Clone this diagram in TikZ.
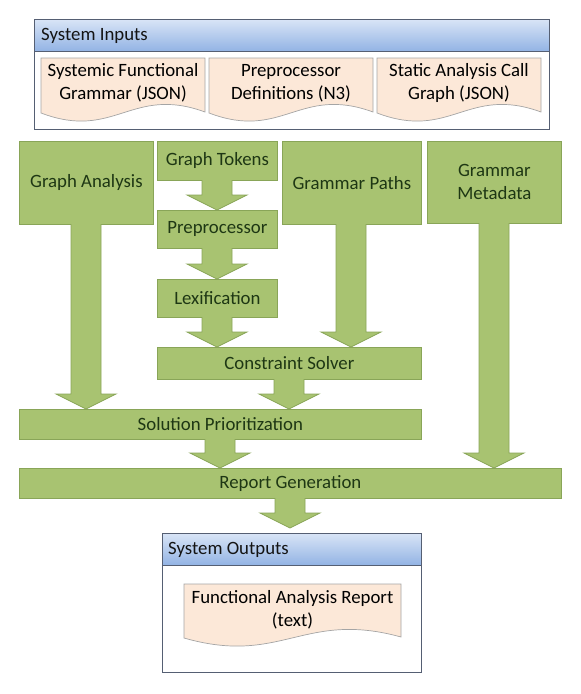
\documentclass[tikz,border=0pt]{standalone}
\usepackage{fontspec}
\setmainfont{Carlito}
\usetikzlibrary{calc}
\definecolor{gfill}{RGB}{168,195,113}
\definecolor{gline}{RGB}{137,165,88}
\definecolor{gtext}{RGB}{30,55,20}
\definecolor{dfill}{RGB}{252,232,216}
\definecolor{dline}{RGB}{165,165,165}
\definecolor{frameline}{RGB}{85,95,115}
\definecolor{htop}{RGB}{216,228,246}
\definecolor{hbot}{RGB}{146,179,228}
\definecolor{htext}{RGB}{20,20,20}
\newcommand\gboxat[6]{%
  \node[gbox, minimum width={(#4-#2)*1pt}, minimum height={(#5-#3)*1pt}] (#1) at (#2,#3) {#6};}
\newcommand\blockarr[4]{%
  \draw[garrow] let \p1=(#1.south), \p2=(#2.north) in
    ({#3pt-15pt},{\y1+0.7pt}) -- ({#3pt-15pt},{\y2+#4pt+15pt}) -- ({#3pt-30pt},{\y2+#4pt+15pt})
    -- ({#3pt},{\y2+#4pt}) -- ({#3pt+30pt},{\y2+#4pt+15pt}) -- ({#3pt+15pt},{\y2+#4pt+15pt})
    -- ({#3pt+15pt},{\y1+0.7pt});}
\newcommand\docshape[4]{%
  \draw[docstyle] (#1,#2) -- (#3,#2) -- (#3,#4-1)
    .. controls ({#1+0.55*(#3-#1)},{#4-28}) and ({#1+0.45*(#3-#1)},{#4+28}) .. (#1,#4) -- cycle;}
\begin{document}
\begin{tikzpicture}[x=1pt,y=-1pt,
  font=\fontsize{18.8}{23}\selectfont,
  gbox/.style={draw=gline, fill=gfill, text=gtext, line width=0.8pt, inner sep=0pt, anchor=north west, align=center},
  garrow/.style={draw=gline, fill=gfill, line width=0.8pt, line join=miter},
  docstyle/.style={draw=dline, fill=dfill, line width=0.7pt},
  doctext/.style={text=black, align=center, inner sep=0pt},
  frame/.style={draw=frameline, fill=white, line width=0.9pt, inner sep=0pt, anchor=north west},
  header/.style={draw=frameline, top color=htop, bottom color=hbot, line width=0.9pt, inner sep=0pt, anchor=north west},
  htextstyle/.style={text=htext, anchor=west, inner sep=0pt}]
\useasboundingbox (0,0) rectangle (581,694);
\fill[white] (0,0) rectangle (581,694);

% inputs frame
\node[frame, minimum width=515pt, minimum height=110pt] (inframe) at (34,19) {};
\node[header, minimum width=515pt, minimum height=32pt] (inhead) at (34,19) {};
\node[htextstyle] (intitle) at (41,36) {System Inputs};
\docshape{41}{58}{205}{113}
\docshape{209}{58}{373}{113}
\docshape{377}{58}{541}{113}
\node[doctext] (doc1) at (123,83) {Systemic Functional\\Grammar (JSON)};
\node[doctext] (doc2) at (291,83) {Preprocessor\\Definitions (N3)};
\node[doctext] (doc3) at (459,83) {Static Analysis Call\\Graph (JSON)};

% green boxes
\gboxat{ga}{19}{141}{153}{224}{Graph Analysis}
\gboxat{gt}{157}{141}{277}{180}{Graph Tokens}
\gboxat{pre}{157}{210}{277}{248}{Preprocessor}
\gboxat{lex}{157}{279}{277}{317}{Lexification}
\gboxat{cs}{157}{347}{421}{379}{Constraint Solver}
\gboxat{gp}{282}{141}{421}{224}{Grammar Paths}
\gboxat{gm}{427}{141}{561}{223}{Grammar\\Metadata}
\gboxat{sp}{19}{409}{421}{439}{Solution Prioritization}
\gboxat{rg}{19}{468}{561}{498}{Report Generation}

% outputs frame
\node[frame, minimum width=259pt, minimum height=139pt] (outframe) at (162,533) {};
\node[header, minimum width=259pt, minimum height=32pt] (outhead) at (162,533) {};
\node[htextstyle] (outtitle) at (168,550) {System Outputs};
\docshape{184}{584}{401}{638}
\node[doctext] (doc4) at (292.5,610) {Functional Analysis Report\\(text)};

% block arrows
\blockarr{gt}{pre}{217}{0}
\blockarr{pre}{lex}{217}{0}
\blockarr{lex}{cs}{217}{0}
\blockarr{gp}{cs}{351}{0}
\blockarr{ga}{sp}{86}{0}
\blockarr{cs}{sp}{289}{0}
\blockarr{gm}{rg}{494}{0}
\blockarr{sp}{rg}{220}{0}
\blockarr{rg}{outframe}{290}{5}
\end{tikzpicture}
\end{document}
